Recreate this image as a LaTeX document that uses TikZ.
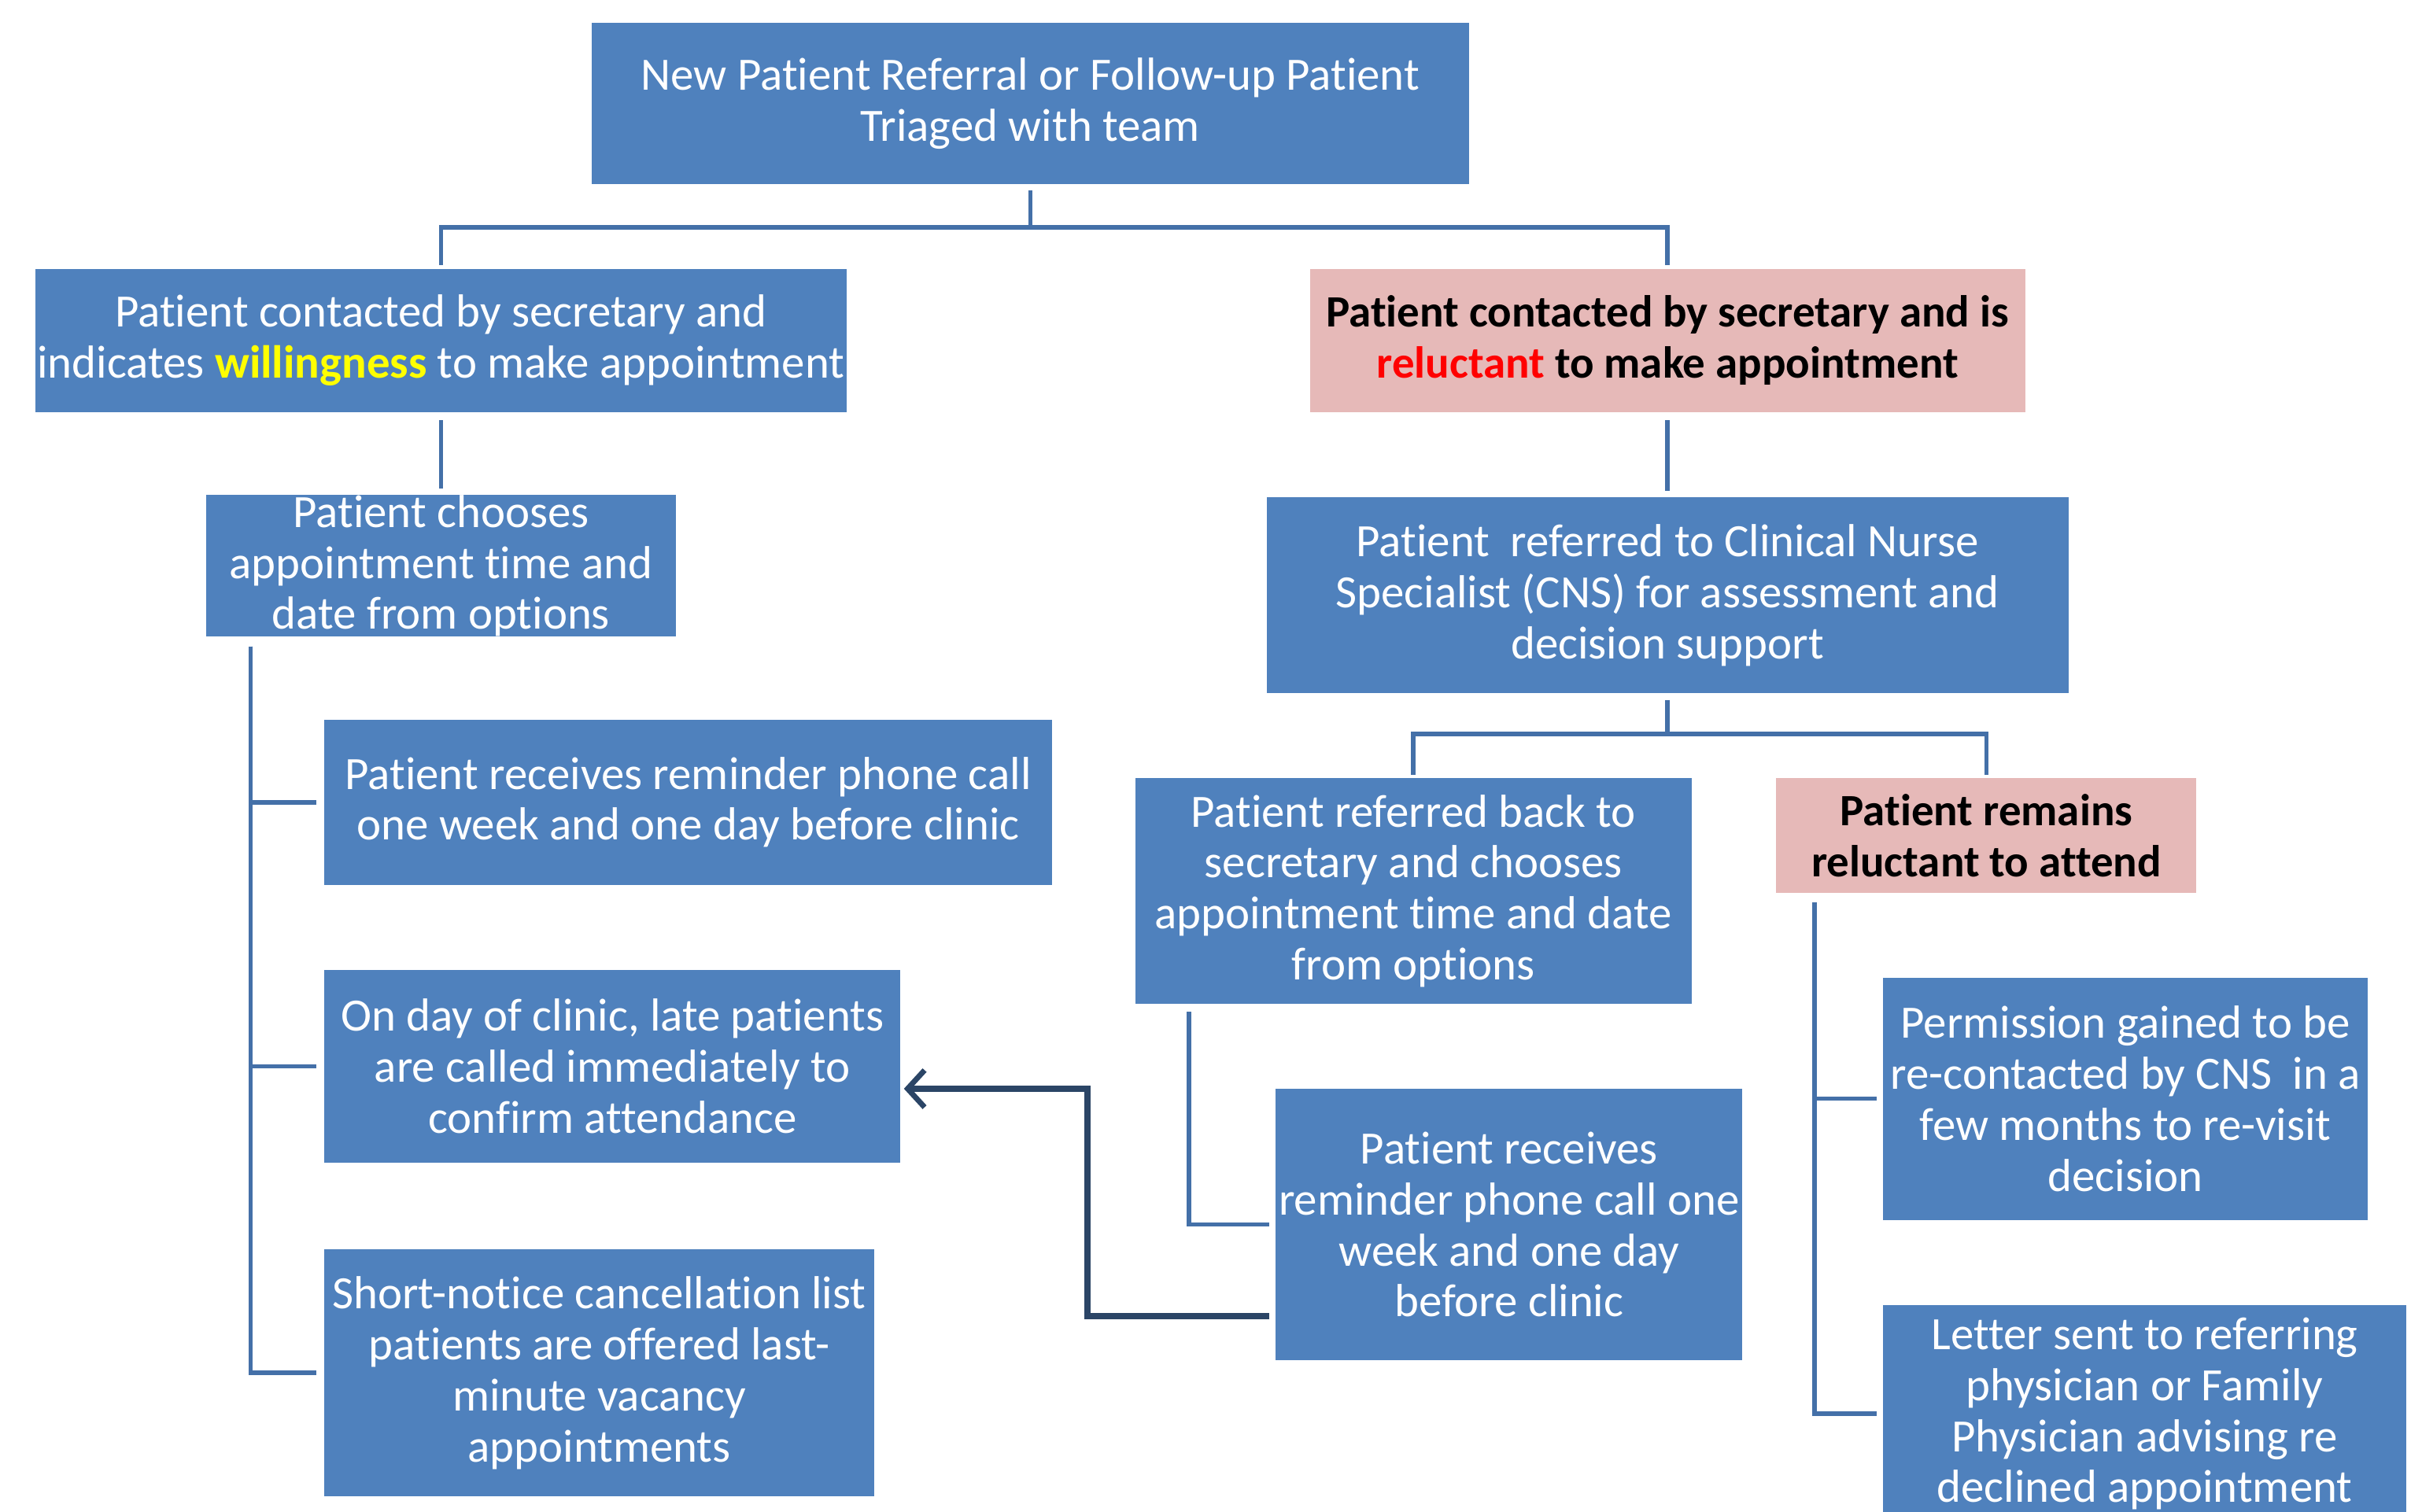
\documentclass[tikz,border=0pt]{standalone}
\usepackage{fontspec}
\setmainfont[Ligatures=NoCommon]{Carlito}
\usetikzlibrary{calc,arrows.meta}
\definecolor{boxblue}{HTML}{4F81BD}
\definecolor{boxpink}{HTML}{E6B9B8}
\definecolor{connblue}{HTML}{4470A8}
\definecolor{arrnavy}{HTML}{2B4566}
\definecolor{willy}{HTML}{FFFF00}
\definecolor{relred}{HTML}{FF0000}
\begin{document}
\begin{tikzpicture}[x=1pt,y=-1pt,
  box/.style={fill=boxblue,draw=none,text=white,align=center,inner sep=0pt,
    font=\fontsize{30}{33}\selectfont},
  pbox/.style={box,fill=boxpink,text=black,font=\fontsize{29}{33}\selectfont\bfseries},
  conn/.style={draw=connblue,line width=2.8pt},
  backarrow/.style={draw=arrnavy,line width=4pt,-{Straight Barb[length=11pt,width=24pt,line width=3.5pt]}}]
\useasboundingbox[fill=white] (0,0) rectangle (1568,979);

\node[box,minimum width=568pt,minimum height=104pt] (top) at (667,67)
  {New Patient Referral or Follow-up Patient\\Triaged with team};
\node[box,minimum width=525pt,minimum height=93pt] (will) at (285.5,220.5)
  {Patient contacted by secretary and\\indicates \textbf{\textcolor{willy}{willingness}} to make appointment};
\node[pbox,minimum width=463pt,minimum height=93pt] (rel) at (1079.5,220.5)
  {Patient contacted by secretary and is\\\textcolor{relred}{reluctant} to make appointment};
\node[box,minimum width=304pt,minimum height=89pt] (choose) at (285.5,366.5)
  {Patient chooses\\appointment time and\\date from options};
\node[box,minimum width=519pt,minimum height=127pt] (cns) at (1079.5,385.5)
  {Patient\ \ referred to Clinical Nurse\\Specialist (CNS) for assessment and\\decision support};
\node[box,minimum width=471pt,minimum height=107pt] (remL) at (445.5,519.5)
  {Patient receives reminder phone call\\one week and one day before clinic};
\node[box,minimum width=373pt,minimum height=125pt] (day) at (396.5,690.5)
  {On day of clinic, late patients\\are called immediately to\\confirm attendance};
\node[box,minimum width=356pt,minimum height=160pt] (short) at (388,889)
  {Short-notice cancellation list\\patients are offered last-\\minute vacancy\\appointments};
\node[box,minimum width=360pt,minimum height=146pt] (back) at (915,577)
  {Patient referred back to\\secretary and chooses\\appointment time and date\\from options};
\node[pbox,minimum width=272pt,minimum height=74pt] (remains) at (1286,541)
  {Patient remains\\reluctant to attend};
\node[box,minimum width=302pt,minimum height=176pt] (remR) at (977,793)
  {Patient receives\\reminder phone call one\\week and one day\\before clinic};
\node[box,minimum width=314pt,minimum height=157pt] (perm) at (1376,711.5)
  {Permission gained to be\\re-contacted by CNS\ \ in a\\few months to re-visit\\decision};
\node[box,minimum width=339pt,minimum height=141pt] (letter) at (1388.5,915.5)
  {Letter sent to referring\\physician or Family\\Physician advising re\\declined appointment};

% top split
\coordinate (tsplit) at ($(top.south)+(0,28)$);
\draw[conn] ($(top.south)+(0,4)$) -- (tsplit);
\draw[conn] (tsplit) -| ($(will.north)+(0,-2)$);
\draw[conn] (tsplit) -| ($(rel.north)+(0,-2)$);
% will -> choose, rel -> cns
\draw[conn] ($(will.south)+(0,5)$) -- ($(choose.north)+(0,-4)$);
\draw[conn] ($(rel.south)+(0,5)$) -- ($(cns.north)+(0,-4)$);
% left tree
\coordinate (lt) at ($(choose.south west)+(29,6)$);
\draw[conn,shorten >=5pt] (lt) |- (remL.west);
\draw[conn,shorten >=5pt] (lt) |- (day.west);
\draw[conn,shorten >=5pt] (lt) |- (short.west);
% cns split
\coordinate (csplit) at ($(cns.south)+(0,26)$);
\draw[conn] ($(cns.south)+(0,4)$) -- (csplit);
\draw[conn] (csplit) -| ($(back.north)+(0,-2)$);
\draw[conn] (csplit) -| ($(remains.north)+(0,-2)$);
% back -> remR
\coordinate (bt) at ($(back.south west)+(35,5)$);
\draw[conn,shorten >=4pt] (bt) |- (remR.west);
% remains tree
\coordinate (rt) at ($(remains.south west)+(25,6)$);
\draw[conn,shorten >=4pt] (rt) |- (perm.west);
\draw[conn,shorten >=4pt] (rt) |- (letter.west);
% feedback arrow
\coordinate (a1) at ($(remR.south west)+(-4,-29)$);
\coordinate (a3) at ($(day.east)+(2,14.5)$);
\draw[backarrow] (a1) -- ++(-118,0) |- (a3);
\end{tikzpicture}
\end{document}
